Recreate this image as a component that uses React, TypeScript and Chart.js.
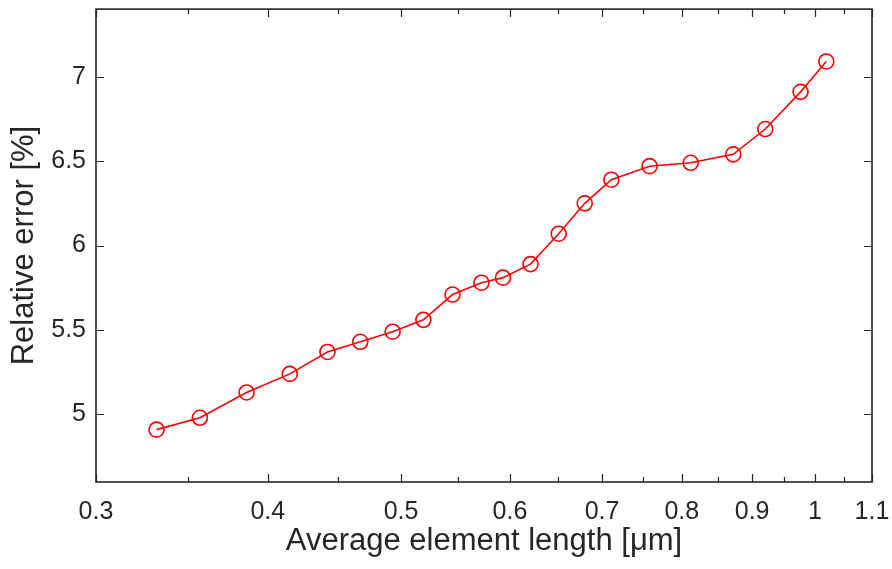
import React, { useEffect, useRef } from "react";
import { Chart, registerables } from "chart.js";

Chart.register(...registerables);

// Data
const elementLength = [0.332, 0.357, 0.386, 0.415, 0.442, 0.467, 0.493, 0.519, 0.545, 0.572, 0.593, 0.621, 0.651, 0.680, 0.711, 0.758, 0.812, 0.872, 0.920, 0.976, 1.019];
const relativeError = [4.91, 4.98, 5.13, 5.24, 5.37, 5.43, 5.49, 5.56, 5.71, 5.78, 5.81, 5.89, 6.07, 6.25, 6.39, 6.47, 6.49, 6.54, 6.69, 6.91, 7.09];

const xMajorTicks = [0.3, 0.4, 0.5, 0.6, 0.7, 0.8, 0.9, 1.0, 1.1];
const xMajorLabels = ["0.3", "0.4", "0.5", "0.6", "0.7", "0.8", "0.9", "1", "1.1"];
const xMinorTicks = [0.35, 0.45, 0.55, 0.65, 0.75, 0.85, 0.95, 1.05];
const yTicks = [5, 5.5, 6, 6.5, 7];

const TEXT = "#262626";
const FONT = "'Liberation Sans', Arial, Helvetica, sans-serif";

const boxTicks = {
  id: "boxTicks",
  afterDraw(chart: any) {
    const { ctx, chartArea } = chart;
    const { left, right, top, bottom } = chartArea;
    const xs = chart.scales.x;
    const ys = chart.scales.y;
    ctx.save();
    ctx.strokeStyle = TEXT;
    ctx.lineWidth = 1.2;
    ctx.beginPath();
    for (const v of yTicks) {
      const p = Math.round(ys.getPixelForValue(v)) + 0.5;
      ctx.moveTo(left, p);
      ctx.lineTo(left + 8, p);
      ctx.moveTo(right, p);
      ctx.lineTo(right - 8, p);
    }
    for (const v of xMajorTicks) {
      const p = Math.round(xs.getPixelForValue(v)) + 0.5;
      ctx.moveTo(p, bottom);
      ctx.lineTo(p, bottom - 8);
      ctx.moveTo(p, top);
      ctx.lineTo(p, top + 8);
    }
    for (const v of xMinorTicks) {
      const p = Math.round(xs.getPixelForValue(v)) + 0.5;
      ctx.moveTo(p, bottom);
      ctx.lineTo(p, bottom - 5);
      ctx.moveTo(p, top);
      ctx.lineTo(p, top + 5);
    }
    ctx.stroke();
    ctx.lineWidth = 1.6;
    ctx.strokeRect(left, top, right - left, bottom - top);
    ctx.restore();
  },
};

export default function App() {
  const ref = useRef<HTMLCanvasElement | null>(null);

  useEffect(() => {
    document.body.style.margin = "0";
    const canvas = ref.current;
    if (!canvas) return;
    const chart = new Chart(canvas, {
      type: "line",
      data: {
        datasets: [
          {
            data: elementLength.map((x, i) => ({ x, y: relativeError[i] })),
            borderColor: "#ff0000",
            borderWidth: 1.6,
            pointRadius: 7.5,
            pointBorderWidth: 1.6,
            pointBorderColor: "#ff0000",
            pointBackgroundColor: "rgba(0,0,0,0)",
            pointStyle: "circle",
            tension: 0,
            fill: false,
          },
        ],
      },
      options: {
        animation: false,
        responsive: false,
        maintainAspectRatio: false,
        devicePixelRatio: 1,
        layout: { padding: { top: 6, right: 20, left: 0, bottom: 0 } },
        plugins: {
          legend: { display: false },
          tooltip: { enabled: false },
        },
        scales: {
          x: {
            type: "logarithmic",
            min: 0.3,
            max: 1.1,
            afterBuildTicks: (s: any) => {
              s.ticks = xMajorTicks.map((v) => ({ value: v }));
            },
            afterFit: (s: any) => {
              s.height = 87;
              s.paddingLeft = 0;
              s.paddingRight = 0;
              s.paddingTop = 0;
              s.paddingBottom = 0;
            },
            grid: { display: false, drawTicks: false },
            border: { display: false },
            ticks: {
              autoSkip: false,
              maxRotation: 0,
              minRotation: 0,
              padding: 15,
              color: TEXT,
              font: { family: FONT, size: 25 },
              callback: (v: any) => {
                const i = xMajorTicks.findIndex((t) => Math.abs(t - Number(v)) < 1e-6);
                return i >= 0 ? xMajorLabels[i] : "";
              },
            },
            title: {
              display: true,
              text: "Average element length [μm]",
              color: TEXT,
              font: { family: FONT, size: 31 },
              padding: { top: 0, bottom: 9 },
            },
          },
          y: {
            type: "linear",
            min: 4.6,
            max: 7.4,
            afterBuildTicks: (s: any) => {
              s.ticks = yTicks.map((v) => ({ value: v }));
            },
            afterFit: (s: any) => {
              s.width = 96;
              s.paddingLeft = 0;
              s.paddingRight = 0;
              s.paddingTop = 0;
              s.paddingBottom = 0;
            },
            grid: { display: false, drawTicks: false },
            border: { display: false },
            ticks: {
              padding: 10,
              color: TEXT,
              font: { family: FONT, size: 25 },
              callback: (v: any) => String(v),
            },
            title: {
              display: true,
              text: "Relative error [%]",
              color: TEXT,
              font: { family: FONT, size: 31 },
              padding: { top: 6, bottom: 0 },
            },
          },
        },
      },
      plugins: [boxTicks],
    });
    return () => chart.destroy();
  }, []);

  return (
    <div style={{ position: "absolute", left: 0, top: 0, width: 892, height: 569, background: "#fff" }}>
      <canvas ref={ref} width={892} height={569} style={{ display: "block" }} />
    </div>
  );
}
